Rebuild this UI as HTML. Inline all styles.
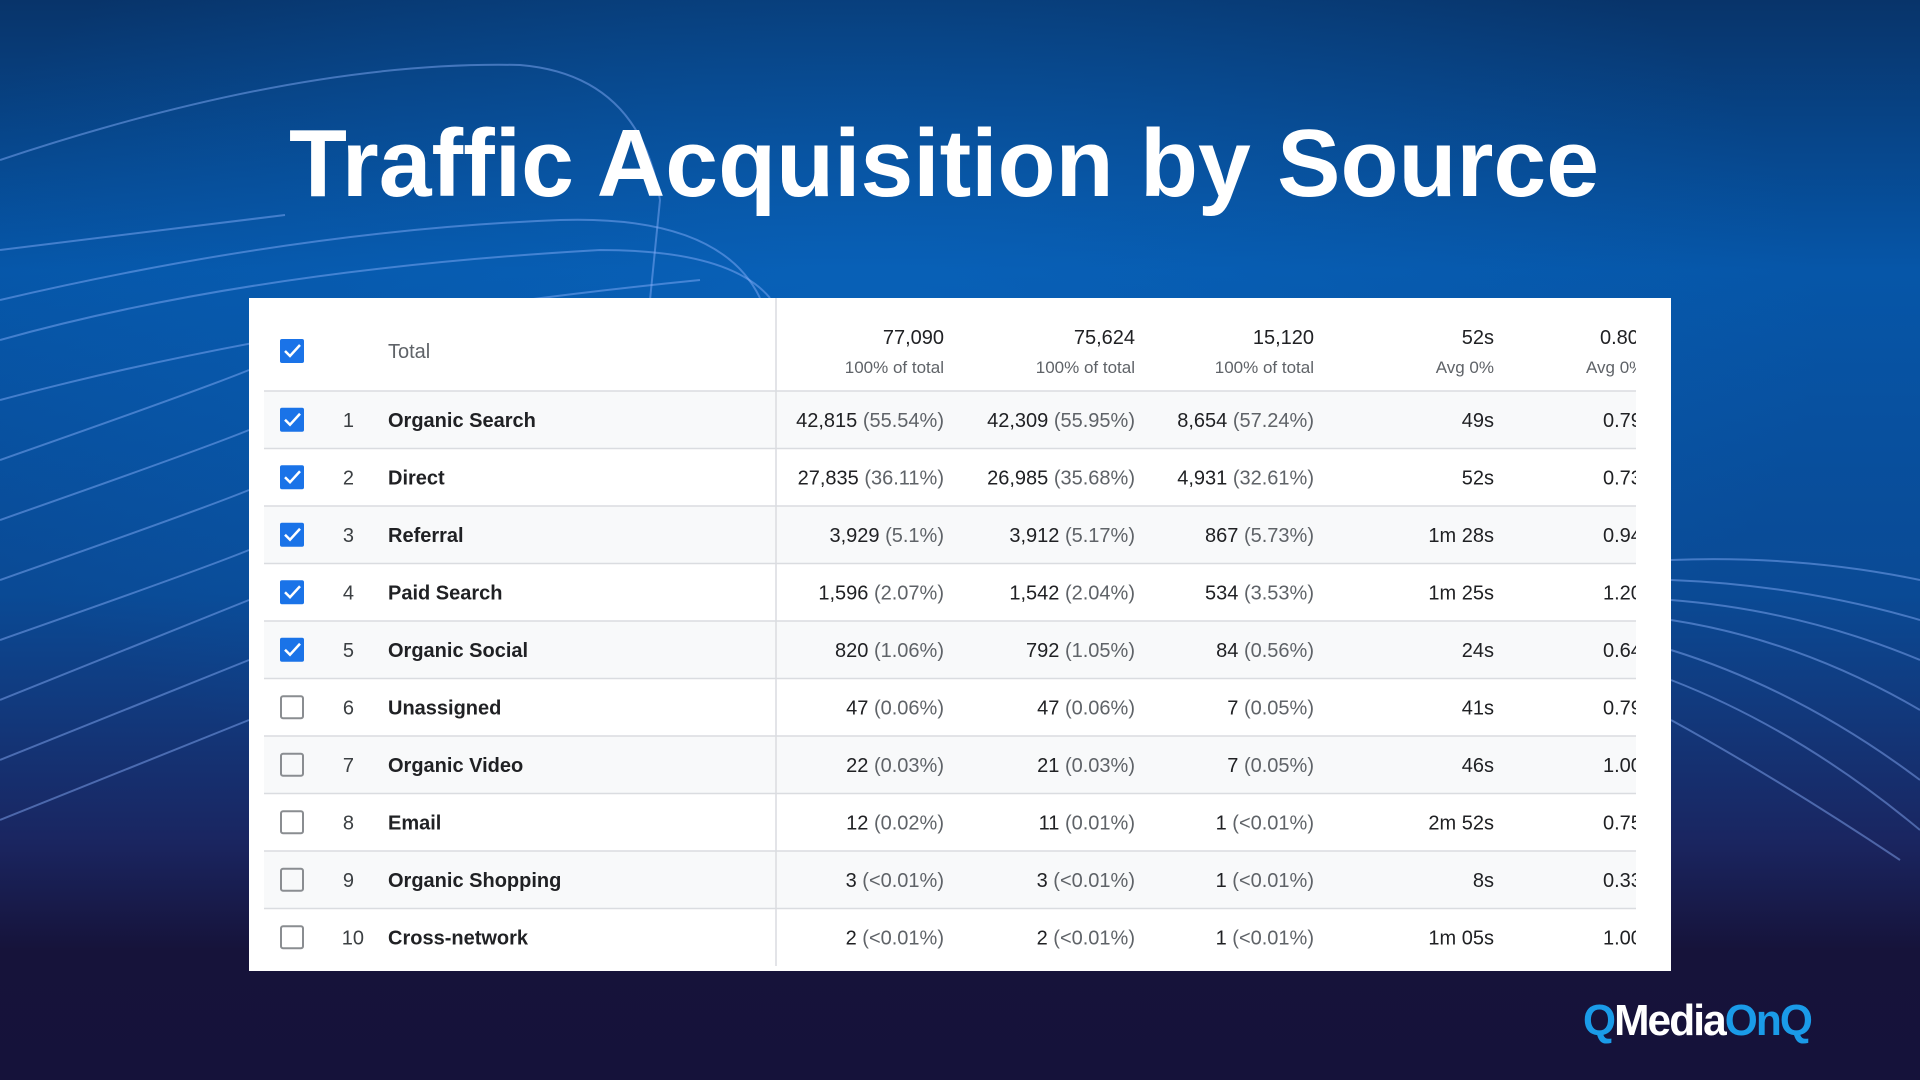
<!DOCTYPE html>
<html><head><meta charset="utf-8"><style>
html,body{margin:0;padding:0;width:1920px;height:1080px;overflow:hidden;background:#15133a}
svg{display:block}
</style></head><body>
<svg width="1920" height="1080" viewBox="0 0 1920 1080" xmlns="http://www.w3.org/2000/svg" font-family="Liberation Sans, Arial, sans-serif">
<defs>
<linearGradient id="bg" x1="0" y1="0" x2="0" y2="1">
<stop offset="0" stop-color="#08346a"/>
<stop offset="0.25" stop-color="#0656a8"/>
<stop offset="0.55" stop-color="#0a4a95"/>
<stop offset="0.78" stop-color="#1a2560"/>
<stop offset="0.88" stop-color="#16133a"/>
<stop offset="1" stop-color="#15123a"/>
</linearGradient>
<radialGradient id="glow" cx="0.45" cy="0.3" r="0.5">
<stop offset="0" stop-color="#0a6cc8" stop-opacity="0.5"/>
<stop offset="1" stop-color="#0a6cc8" stop-opacity="0"/>
</radialGradient>
<clipPath id="clip"><rect x="249" y="298" width="1387" height="673"/></clipPath>
</defs>
<rect width="1920" height="1080" fill="url(#bg)"/>
<rect width="1920" height="1080" fill="url(#glow)"/>
<g fill="none" stroke="#8fb4ff" stroke-opacity="0.45" stroke-width="2">
<path d="M0 160 Q300 60 520 65 Q640 75 660 200 L650 300"/>
<path d="M0 300 Q300 230 560 220 Q720 215 760 298"/>
<path d="M0 340 Q250 270 600 250 Q730 250 770 298"/>
<path d="M0 250 L285 215"/>
<path d="M0 400 Q300 320 700 280"/>
<path d="M0 460 Q200 390 249 370"/>
<path d="M0 520 Q200 450 249 430"/>
<path d="M0 580 Q200 510 249 490"/>
<path d="M0 640 Q200 570 249 550"/>
<path d="M0 700 Q200 620 249 600"/>
<path d="M0 760 Q200 680 249 660"/>
<path d="M0 820 Q200 740 249 720"/>
<path d="M1671 560 Q1800 555 1920 580"/>
<path d="M1671 580 Q1800 585 1920 620"/>
<path d="M1671 600 Q1800 610 1920 660"/>
<path d="M1671 620 Q1800 640 1920 710"/>
<path d="M1671 650 Q1800 690 1920 780"/>
<path d="M1671 680 Q1800 730 1920 830"/>
<path d="M1671 720 Q1780 780 1900 860"/>
</g>
<text x="944" y="196" font-size="96" font-weight="bold" fill="#ffffff" text-anchor="middle" textLength="1310" lengthAdjust="spacingAndGlyphs">Traffic Acquisition by Source</text>

<rect x="249" y="298" width="1422" height="673" fill="#ffffff"/>
<g clip-path="url(#clip)">
<rect x="264" y="391" width="1372" height="57.5" fill="#f8f9fa"/>
<rect x="264" y="506" width="1372" height="57.5" fill="#f8f9fa"/>
<rect x="264" y="621" width="1372" height="57.5" fill="#f8f9fa"/>
<rect x="264" y="736" width="1372" height="57.5" fill="#f8f9fa"/>
<rect x="264" y="851" width="1372" height="57.5" fill="#f8f9fa"/>
<g stroke="#dadce0" stroke-width="1.5">
<line x1="264" y1="391" x2="1636" y2="391"/>
<line x1="264" y1="448.5" x2="1636" y2="448.5"/>
<line x1="264" y1="506" x2="1636" y2="506"/>
<line x1="264" y1="563.5" x2="1636" y2="563.5"/>
<line x1="264" y1="621" x2="1636" y2="621"/>
<line x1="264" y1="678.5" x2="1636" y2="678.5"/>
<line x1="264" y1="736" x2="1636" y2="736"/>
<line x1="264" y1="793.5" x2="1636" y2="793.5"/>
<line x1="264" y1="851" x2="1636" y2="851"/>
<line x1="264" y1="908.5" x2="1636" y2="908.5"/>
<line x1="776" y1="298" x2="776" y2="966"/>
</g>
<!-- checkboxes -->
<g>
<rect x="280" y="339" width="24" height="24" rx="2" fill="#1a73e8"/>
<rect x="280" y="407.75" width="24" height="24" rx="2" fill="#1a73e8"/>
<rect x="280" y="465.25" width="24" height="24" rx="2" fill="#1a73e8"/>
<rect x="280" y="522.75" width="24" height="24" rx="2" fill="#1a73e8"/>
<rect x="280" y="580.25" width="24" height="24" rx="2" fill="#1a73e8"/>
<rect x="280" y="637.75" width="24" height="24" rx="2" fill="#1a73e8"/>
</g>
<g fill="none" stroke="#fff" stroke-width="2.5">
<path d="M285 351 l5 5 l10 -11"/>
<path d="M285 419.75 l5 5 l10 -11"/>
<path d="M285 477.25 l5 5 l10 -11"/>
<path d="M285 534.75 l5 5 l10 -11"/>
<path d="M285 592.25 l5 5 l10 -11"/>
<path d="M285 649.75 l5 5 l10 -11"/>
</g>
<g fill="none" stroke="#8a8d91" stroke-width="2">
<rect x="281" y="696.25" width="22" height="22" rx="2"/>
<rect x="281" y="753.75" width="22" height="22" rx="2"/>
<rect x="281" y="811.25" width="22" height="22" rx="2"/>
<rect x="281" y="868.75" width="22" height="22" rx="2"/>
<rect x="281" y="926.25" width="22" height="22" rx="2"/>
</g>
<text x="388" y="358" font-size="20" fill="#5f6368">Total</text>
<g font-size="20" fill="#202124" text-anchor="end">
<text x="944" y="344">77,090</text><text x="1135" y="344">75,624</text><text x="1314" y="344">15,120</text><text x="1494" y="344">52s</text>
</g>
<text x="1600" y="344" font-size="20" fill="#202124">0.80</text>
<g font-size="17" fill="#5f6368" text-anchor="end">
<text x="944" y="373">100% of total</text><text x="1135" y="373">100% of total</text><text x="1314" y="373">100% of total</text><text x="1494" y="373">Avg 0%</text>
</g>
<text x="1586" y="373" font-size="17" fill="#5f6368">Avg 0%</text>

<g font-size="20" fill="#3c4043" text-anchor="end">
<text x="354" y="427">1</text><text x="354" y="484.5">2</text><text x="354" y="542">3</text><text x="354" y="599.5">4</text><text x="354" y="657">5</text><text x="354" y="714.5">6</text><text x="354" y="772">7</text><text x="354" y="829.5">8</text><text x="354" y="887">9</text><text x="364" y="944.5">10</text>
</g>
<g font-size="20" fill="#202124" font-weight="bold">
<text x="388" y="427">Organic Search</text><text x="388" y="484.5">Direct</text><text x="388" y="542">Referral</text><text x="388" y="599.5">Paid Search</text><text x="388" y="657">Organic Social</text><text x="388" y="714.5">Unassigned</text><text x="388" y="772">Organic Video</text><text x="388" y="829.5">Email</text><text x="388" y="887">Organic Shopping</text><text x="388" y="944.5">Cross-network</text>
</g>
<g font-size="20" fill="#202124" text-anchor="end">
<text x="944" y="427">42,815 <tspan fill="#5f6368">(55.54%)</tspan></text>
<text x="1135" y="427">42,309 <tspan fill="#5f6368">(55.95%)</tspan></text>
<text x="1314" y="427">8,654 <tspan fill="#5f6368">(57.24%)</tspan></text>
<text x="1494" y="427">49s</text>
<text x="944" y="484.5">27,835 <tspan fill="#5f6368">(36.11%)</tspan></text>
<text x="1135" y="484.5">26,985 <tspan fill="#5f6368">(35.68%)</tspan></text>
<text x="1314" y="484.5">4,931 <tspan fill="#5f6368">(32.61%)</tspan></text>
<text x="1494" y="484.5">52s</text>
<text x="944" y="542">3,929 <tspan fill="#5f6368">(5.1%)</tspan></text>
<text x="1135" y="542">3,912 <tspan fill="#5f6368">(5.17%)</tspan></text>
<text x="1314" y="542">867 <tspan fill="#5f6368">(5.73%)</tspan></text>
<text x="1494" y="542">1m 28s</text>
<text x="944" y="599.5">1,596 <tspan fill="#5f6368">(2.07%)</tspan></text>
<text x="1135" y="599.5">1,542 <tspan fill="#5f6368">(2.04%)</tspan></text>
<text x="1314" y="599.5">534 <tspan fill="#5f6368">(3.53%)</tspan></text>
<text x="1494" y="599.5">1m 25s</text>
<text x="944" y="657">820 <tspan fill="#5f6368">(1.06%)</tspan></text>
<text x="1135" y="657">792 <tspan fill="#5f6368">(1.05%)</tspan></text>
<text x="1314" y="657">84 <tspan fill="#5f6368">(0.56%)</tspan></text>
<text x="1494" y="657">24s</text>
<text x="944" y="714.5">47 <tspan fill="#5f6368">(0.06%)</tspan></text>
<text x="1135" y="714.5">47 <tspan fill="#5f6368">(0.06%)</tspan></text>
<text x="1314" y="714.5">7 <tspan fill="#5f6368">(0.05%)</tspan></text>
<text x="1494" y="714.5">41s</text>
<text x="944" y="772">22 <tspan fill="#5f6368">(0.03%)</tspan></text>
<text x="1135" y="772">21 <tspan fill="#5f6368">(0.03%)</tspan></text>
<text x="1314" y="772">7 <tspan fill="#5f6368">(0.05%)</tspan></text>
<text x="1494" y="772">46s</text>
<text x="944" y="829.5">12 <tspan fill="#5f6368">(0.02%)</tspan></text>
<text x="1135" y="829.5">11 <tspan fill="#5f6368">(0.01%)</tspan></text>
<text x="1314" y="829.5">1 <tspan fill="#5f6368">(&lt;0.01%)</tspan></text>
<text x="1494" y="829.5">2m 52s</text>
<text x="944" y="887">3 <tspan fill="#5f6368">(&lt;0.01%)</tspan></text>
<text x="1135" y="887">3 <tspan fill="#5f6368">(&lt;0.01%)</tspan></text>
<text x="1314" y="887">1 <tspan fill="#5f6368">(&lt;0.01%)</tspan></text>
<text x="1494" y="887">8s</text>
<text x="944" y="944.5">2 <tspan fill="#5f6368">(&lt;0.01%)</tspan></text>
<text x="1135" y="944.5">2 <tspan fill="#5f6368">(&lt;0.01%)</tspan></text>
<text x="1314" y="944.5">1 <tspan fill="#5f6368">(&lt;0.01%)</tspan></text>
<text x="1494" y="944.5">1m 05s</text>
</g>
<g font-size="20" fill="#202124">
<text x="1603" y="427">0.79</text><text x="1603" y="484.5">0.73</text><text x="1603" y="542">0.94</text><text x="1603" y="599.5">1.20</text><text x="1603" y="657">0.64</text><text x="1603" y="714.5">0.79</text><text x="1603" y="772">1.00</text><text x="1603" y="829.5">0.75</text><text x="1603" y="887">0.33</text><text x="1603" y="944.5">1.00</text>
</g>
</g>
<rect x="1636" y="298" width="35" height="673" fill="#ffffff"/>

<text x="1583" y="1035" font-size="44" font-weight="bold" letter-spacing="-2" textLength="228" lengthAdjust="spacingAndGlyphs"><tspan fill="#1a9be8">Q</tspan><tspan fill="#ffffff">Media</tspan><tspan fill="#1a9be8">OnQ</tspan></text>
</svg>
</body></html>
